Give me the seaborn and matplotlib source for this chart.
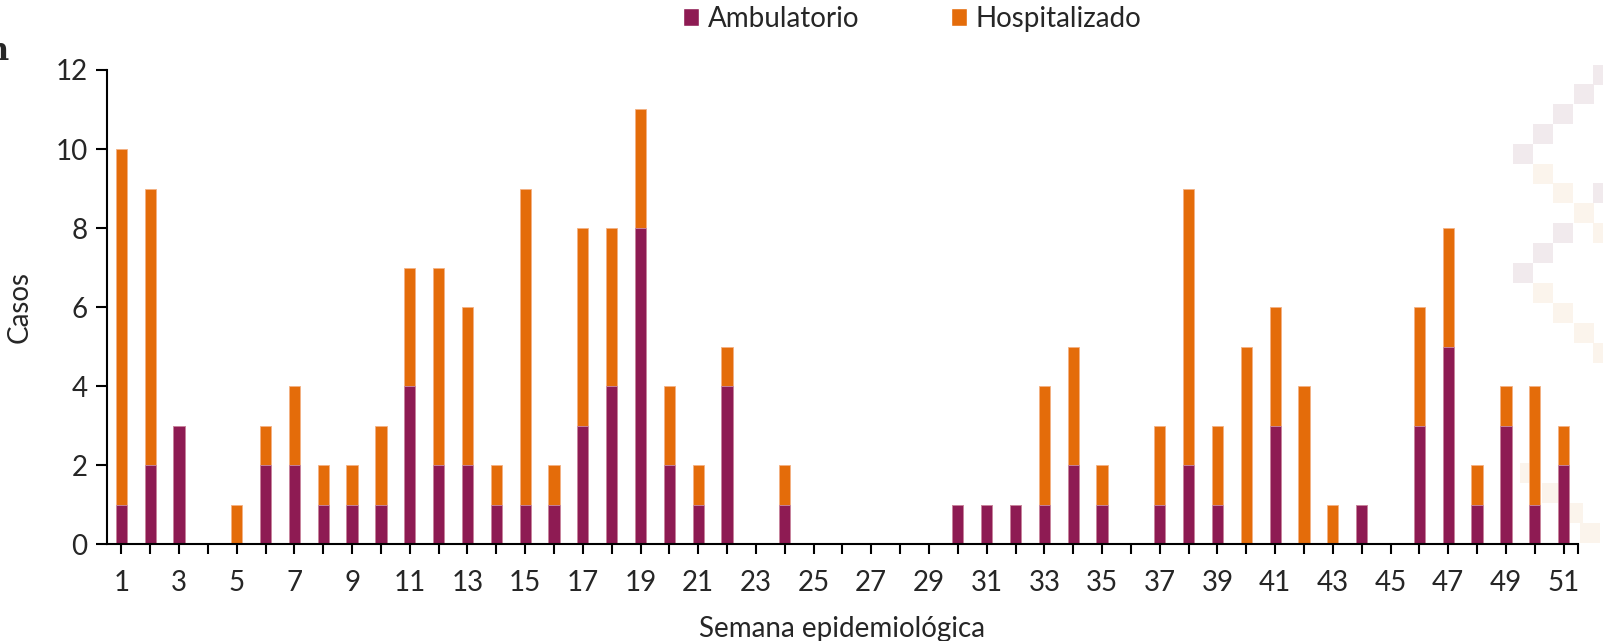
import numpy as np
import pandas as pd
import matplotlib
matplotlib.use("Agg")
import matplotlib.pyplot as plt
from matplotlib.patches import Patch, Rectangle
import seaborn as sns

# weekly cases by type of care
semanas = [str(i) for i in range(1, 52)]
ambulatorio = [1, 2, 3, 0, 0, 2, 2, 1, 1, 1,
               4, 2, 2, 1, 1, 1, 3, 4, 8, 2,
               1, 4, 0, 1, 0, 0, 0, 0, 0, 1,
               1, 1, 1, 2, 1, 0, 1, 2, 1, 0,
               3, 0, 0, 1, 0, 3, 5, 1, 3, 1,
               2]
hospitalizado = [9, 7, 0, 0, 1, 1, 2, 1, 1, 2,
                 3, 5, 4, 1, 8, 1, 5, 4, 3, 2,
                 1, 1, 0, 1, 0, 0, 0, 0, 0, 0,
                 0, 0, 3, 3, 1, 0, 2, 7, 2, 5,
                 3, 4, 1, 0, 0, 3, 3, 1, 1, 3,
                 1]

col_amb = "#8E1B53"
col_hosp = "#E46C0A"

df = pd.DataFrame({"semana": semanas,
                   "amb": ambulatorio,
                   "hosp": hospitalizado})
df["total"] = df["amb"] + df["hosp"]

sns.set_theme(style="white")
plt.rcParams["font.family"] = ["Lato", "DejaVu Sans"]

W, H = 1603, 641
fig, ax = plt.subplots(figsize=(W / 100, H / 100), dpi=100)
fig.subplots_adjust(left=0.0667, right=0.9844, bottom=0.1513, top=0.8908)
ax.set_facecolor("none")
ax.set_zorder(2)

# faint background logo pattern on the right (pixel boxes, figure coords)
logo = [(1593, 65, "p"), (1574, 84, "p"), (1553, 104, "p"), (1533, 124, "p"),
        (1513, 144, "p"), (1533, 164, "o"), (1553, 183, "o"), (1574, 203, "o"),
        (1593, 183, "p"), (1593, 223, "o"), (1553, 223, "p"), (1533, 243, "p"),
        (1513, 263, "p"), (1533, 283, "o"), (1553, 303, "o"), (1574, 323, "o"),
        (1593, 343, "o"), (1520, 463, "o"), (1542, 483, "o"), (1563, 503, "o"),
        (1580, 523, "o")]
for x0, y0, c in logo:
    fc = "#F1EAED" if c == "p" else "#FBF4EC"
    fig.patches.append(Rectangle((x0 / W, 1 - (y0 + 20) / H), 20 / W, 20 / H,
                                 transform=fig.transFigure, facecolor=fc,
                                 edgecolor="none", zorder=0))

# stacked look: total in orange, ambulatory drawn over the bottom part
sns.barplot(data=df, x="semana", y="total", color=col_hosp, width=0.39,
            saturation=1, edgecolor="#F4B183", linewidth=0.6, ax=ax, order=semanas)
sns.barplot(data=df, x="semana", y="amb", color=col_amb, width=0.39,
            saturation=1, edgecolor="#C98BA8", linewidth=0.6, ax=ax, order=semanas)

ax.set_ylim(0, 12)
ax.set_yticks(range(0, 13, 2))
ax.set_xlim(-0.5, 50.5)
ticks = list(range(len(semanas))) + [50.5]
ax.set_xticks(ticks)
ax.set_xticklabels([s if int(s) % 2 == 1 else "" for s in semanas] + [""])

for side in ["top", "right"]:
    ax.spines[side].set_visible(False)
for side in ["left", "bottom"]:
    ax.spines[side].set_color("black")
    ax.spines[side].set_linewidth(1.5)

ax.tick_params(axis="y", which="major", left=True, length=8, width=1.5,
               color="black", labelsize=20, pad=6)
ax.tick_params(axis="x", which="major", bottom=True, length=7, width=1.5,
               color="black", labelsize=20, pad=12)

ax.set_xlabel("Semana epidemiológica", fontsize=20, labelpad=14)
ax.set_ylabel("Casos", fontsize=20, labelpad=16)

handles = [Patch(facecolor=col_amb, label="Ambulatorio"),
           Patch(facecolor=col_hosp, label="Hospitalizado")]
fig.legend(handles=handles, loc="upper center", bbox_to_anchor=(0.569, 1.03),
           ncol=2, frameon=False, fontsize=20, handlelength=0.6,
           handleheight=0.6, handletextpad=0.3, columnspacing=3.3)

# clipped title letter at the left edge
fig.text(0.006, 0.92, "n", fontsize=22, fontweight="bold",
         family="DejaVu Serif", ha="right", va="center")

fig.savefig("out.png", dpi=100)
